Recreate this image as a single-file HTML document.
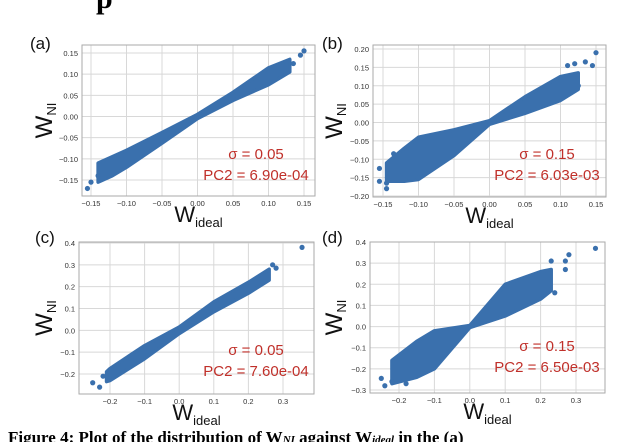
<!DOCTYPE html>
<html><head><meta charset="utf-8"><style>
body{margin:0;background:#fff;width:640px;height:442px;overflow:hidden;font-family:"Liberation Sans",sans-serif}
</style></head><body>
<svg id="fig" width="640" height="442" viewBox="0 0 640 442" xmlns="http://www.w3.org/2000/svg">
<text x="96" y="8" font-family="Liberation Serif,serif" font-size="30" font-weight="bold" fill="#000">p</text>
<text x="8" y="443" font-family="Liberation Serif,serif" font-size="17" font-weight="bold" fill="#000">Figure 4: Plot of the distribution of W<tspan font-size="11" font-style="italic">NI</tspan> against W<tspan font-size="11" font-style="italic">ideal</tspan> in the  (a)</text>
</svg>
<script>
// Panel (a)
const aX=[-0.14,-0.12,-0.1,-0.05,0,0.05,0.1,0.13];
const aUp=[-0.11,-0.095,-0.08,-0.038,0.005,0.057,0.115,0.135];
const aLo=[-0.155,-0.14,-0.12,-0.063,-0.005,0.038,0.075,0.105];
const aOutX=[-0.155,-0.15,-0.14,0.135,0.145,0.15];
const aOutY=[-0.17,-0.155,-0.14,0.125,0.145,0.155];
const aXTicks=[-0.15,-0.10,-0.05,0.00,0.05,0.10,0.15];
const aYTicks=[-0.15,-0.10,-0.05,0.00,0.05,0.10,0.15];
// Panel (b)
const bX=[-0.145,-0.12,-0.1,-0.05,0,0.05,0.1,0.125];
const bUp=[-0.11,-0.07,-0.04,-0.02,0.005,0.07,0.125,0.135];
const bLo=[-0.16,-0.16,-0.155,-0.09,-0.005,0.025,0.06,0.09];
const bOutX=[-0.155,-0.155,-0.145,-0.145,-0.135,-0.1,0.11,0.12,0.135,0.145,0.15,0.125];
const bOutY=[-0.125,-0.16,-0.165,-0.18,-0.085,-0.15,0.155,0.16,0.165,0.155,0.19,0.10];
const bXTicks=[-0.15,-0.10,-0.05,0.00,0.05,0.10,0.15];
const bYTicks=[-0.20,-0.15,-0.10,-0.05,0.00,0.05,0.10,0.15,0.20];
// Panel (c)
const cX=[-0.21,-0.2,-0.1,0,0.1,0.2,0.26];
const cUp=[-0.19,-0.175,-0.07,0.015,0.13,0.22,0.28];
const cLo=[-0.235,-0.23,-0.13,-0.015,0.085,0.17,0.23];
const cOutX=[-0.25,-0.23,-0.22,0.27,0.28,0.355];
const cOutY=[-0.24,-0.26,-0.21,0.3,0.285,0.38];
const cXTicks=[-0.2,-0.1,0.0,0.1,0.2,0.3];
const cYTicks=[-0.2,-0.1,0.0,0.1,0.2,0.3,0.4];
// Panel (d)
const dX=[-0.22,-0.15,-0.1,0,0.1,0.2,0.23];
const dUp=[-0.16,-0.07,-0.02,0.005,0.2,0.26,0.27];
const dLo=[-0.27,-0.24,-0.2,-0.005,0.05,0.13,0.17];
const dOutX=[-0.25,-0.24,-0.22,-0.18,0.23,0.27,0.27,0.28,0.355,0.24];
const dOutY=[-0.245,-0.28,-0.26,-0.27,0.31,0.31,0.27,0.34,0.37,0.16];
const dXTicks=[-0.2,-0.1,0.0,0.1,0.2,0.3];
const dYTicks=[-0.3,-0.2,-0.1,0.0,0.1,0.2,0.3,0.4];

const NS="http://www.w3.org/2000/svg";
const svg=document.getElementById('fig');
function mk(tag,attrs,parent){const e=document.createElementNS(NS,tag);for(const k in attrs)e.setAttribute(k,attrs[k]);(parent||svg).appendChild(e);return e;}
function fmt(v,d){return (v<0?'\u2212':'')+Math.abs(v).toFixed(d);}

function panel(cfg){
  const g=mk('g',{});
  
  
  const sx=v=>cfg.px0+(v-cfg.x0)/(cfg.x1-cfg.x0)*(cfg.px1-cfg.px0);
  const sy=v=>cfg.py0+(v-cfg.y0)/(cfg.y1-cfg.y0)*(cfg.py1-cfg.py0);
  cfg.xt.forEach(t=>{
    const l=mk('line',{x1:sx(t),x2:sx(t),y1:cfg.top,y2:cfg.bot,stroke:'#d8d8d8','stroke-width':1},g);
    
    
    const tx=mk('text',{x:sx(t),y:cfg.bot+10,'font-size':7.5,'text-anchor':'middle',fill:'#333'},g);
    
    
    tx.textContent=fmt(t,cfg.dec);
  });
  cfg.yt.forEach(t=>{
    const l=mk('line',{x1:cfg.left,x2:cfg.right,y1:sy(t),y2:sy(t),stroke:'#d8d8d8','stroke-width':1},g);
    
    
    const tx=mk('text',{x:cfg.left-4,y:sy(t)+3,'font-size':7.5,'text-anchor':'end',fill:'#333'},g);
    
    
    tx.textContent=fmt(t,cfg.dec);
  });
  const fr=mk('rect',{x:cfg.left,y:cfg.top,width:cfg.right-cfg.left,height:cfg.bot-cfg.top,fill:'none',stroke:'#aaa','stroke-width':1},g);
  
  
  let pts=[];
  cfg.xs.forEach((x,i)=>pts.push(sx(x)+','+sy(cfg.up[i])));
  for(let i=cfg.xs.length-1;i>=0;i--)pts.push(sx(cfg.xs[i])+','+sy(cfg.lo[i]));
  const band=mk('polygon',{points:pts.join(' '),fill:'#3a70ad',stroke:'#3a70ad','stroke-width':3.5,'stroke-linejoin':'round'},g);
  
  
  cfg.ox.forEach((x,i)=>{
    const c=mk('circle',{cx:sx(x),cy:sy(cfg.oy[i]),r:2.6,fill:'#3a70ad'},g);
    
    
  });
  const pl=mk('text',{x:cfg.lx,y:cfg.ly,'font-size':17,fill:'#111'},g);
  
  
  pl.textContent='('+cfg.id+')';
  const yl=mk('text',{transform:'translate('+cfg.ylx+','+((cfg.top+cfg.bot)/2)+') rotate(-90)','font-size':24,'text-anchor':'middle',fill:'#111'},g);
  
  
  yl.innerHTML='W<tspan font-size="13" dy="4">NI</tspan>';
  const xl=mk('text',{x:(cfg.left+cfg.right)/2,y:cfg.bot+26,'font-size':22,'text-anchor':'middle',fill:'#111'},g);
  
  
  xl.innerHTML='W<tspan font-size="13" dy="5">ideal</tspan>';
  const s1=mk('text',{x:cfg.ax,y:cfg.ay,'font-size':15,'text-anchor':'middle',fill:'#c0302a'},g);
  
  
  s1.textContent='σ = '+cfg.sigma;
  const s2=mk('text',{x:cfg.ax,y:cfg.ay+21,'font-size':15,'text-anchor':'middle',fill:'#c0302a'},g);
  
  
  s2.textContent='PC2 = '+cfg.pc2;
}
panel({id:'a',left:82,right:315,top:45,bot:196,x0:-0.15,x1:0.15,px0:91,px1:304,y0:-0.15,y1:0.15,py0:180,py1:53,
  xt:aXTicks,yt:aYTicks,dec:2,xs:aX,up:aUp,lo:aLo,ox:aOutX,oy:aOutY,lx:30,ly:49,ylx:52,ax:256,ay:159,sigma:'0.05',pc2:'6.90e-04'});
panel({id:'b',left:373,right:606,top:45,bot:197,x0:-0.15,x1:0.15,px0:383,px1:596,y0:-0.2,y1:0.2,py0:196,py1:49,
  xt:bXTicks,yt:bYTicks,dec:2,xs:bX,up:bUp,lo:bLo,ox:bOutX,oy:bOutY,lx:322,ly:49,ylx:342,ax:547,ay:159,sigma:'0.15',pc2:'6.03e-03'});
panel({id:'c',left:79,right:314,top:242,bot:394,x0:-0.2,x1:0.3,px0:110,px1:283,y0:-0.2,y1:0.4,py0:374,py1:243,
  xt:cXTicks,yt:cYTicks,dec:1,xs:cX,up:cUp,lo:cLo,ox:cOutX,oy:cOutY,lx:35,ly:243,ylx:52,ax:256,ay:355,sigma:'0.05',pc2:'7.60e-04'});
panel({id:'d',left:370,right:605,top:242,bot:393,x0:-0.2,x1:0.3,px0:399,px1:576,y0:-0.3,y1:0.4,py0:390,py1:242,
  xt:dXTicks,yt:dYTicks,dec:1,xs:dX,up:dUp,lo:dLo,ox:dOutX,oy:dOutY,lx:322,ly:243,ylx:342,ax:547,ay:351,sigma:'0.15',pc2:'6.50e-03'});
</script>
</body></html>
